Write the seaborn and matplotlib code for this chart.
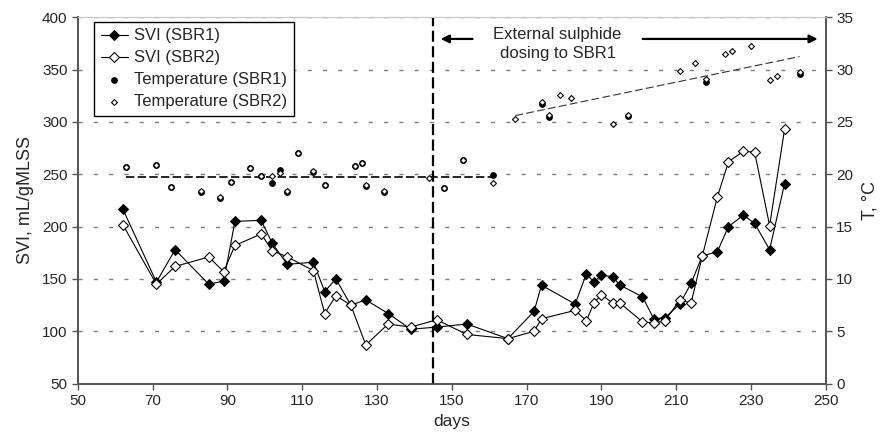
import numpy as np
import pandas as pd
import matplotlib
matplotlib.use('Agg')
import matplotlib.pyplot as plt
import seaborn as sns

# SVI data (both reactors sampled on the same days)
svi_days = [62, 71, 76, 85, 89, 92, 99, 102, 106, 113, 116, 119, 123, 127, 133, 139, 146, 154,
            165, 172, 174, 183, 186, 188, 190, 193, 195, 201, 204, 207, 211, 214, 217, 221,
            224, 228, 231, 235, 239]
svi_sbr1 = [217, 147, 178, 145, 148, 205, 206, 184, 164, 166, 138, 150, 125, 130, 117, 102, 104, 107,
            93, 119, 144, 126, 155, 147, 154, 152, 144, 133, 112, 113, 126, 146, 172, 176,
            200, 211, 203, 178, 241]
svi_sbr2 = [202, 145, 162, 171, 157, 182, 193, 177, 171, 158, 117, 134, 125, 87, 107, 104, 111, 97,
            93, 100, 112, 120, 110, 127, 135, 127, 127, 109, 108, 110, 130, 127, 172, 228,
            262, 272, 271, 201, 293]

# temperature data
t1_days = [63, 71, 75, 83, 88, 91, 96, 99, 102, 104, 106, 109, 113, 116, 124, 126, 127, 132,
           148, 153, 161, 174, 176, 197, 218, 243]
t1_vals = [20.7, 20.9, 18.8, 18.3, 17.7, 19.3, 20.6, 19.8, 19.2, 20.4, 18.3, 22.0, 20.2, 19.0,
           20.8, 21.1, 18.9, 18.3, 18.7, 21.4, 19.9, 26.7, 25.5, 25.6, 28.8, 29.6]
t2_days = [63, 71, 75, 83, 88, 91, 96, 99, 102, 104, 106, 109, 113, 116, 124, 126, 127, 132,
           144, 148, 153, 161, 167, 174, 176, 179, 182, 193, 197, 211, 215, 218, 223, 225,
           230, 235, 237, 243]
t2_vals = [20.7, 20.9, 18.8, 18.4, 17.8, 19.3, 20.6, 19.8, 19.8, 20.1, 18.4, 22.0, 20.3, 19.0,
           20.8, 21.1, 19.0, 18.4, 19.6, 18.7, 21.4, 19.2, 25.3, 26.9, 25.7, 27.6, 27.3, 24.8,
           25.7, 29.9, 30.6, 29.1, 31.5, 31.8, 32.3, 29.0, 29.4, 29.8]

dosing_start = 145

sns.set_style('ticks')
plt.rcParams['font.family'] = ['Liberation Sans', 'DejaVu Sans']

fig, ax = plt.subplots(figsize=(8.85, 4.43), dpi=100)
fig.subplots_adjust(left=0.088, right=0.933, top=0.961, bottom=0.134)
ax2 = ax.twinx()

# SVI lines
sns.lineplot(x=svi_days, y=svi_sbr1, ax=ax, color='black', lw=0.8, marker='D', markersize=4.8,
             markerfacecolor='black', markeredgecolor='black', label='SVI (SBR1)', legend=False)
sns.lineplot(x=svi_days, y=svi_sbr2, ax=ax, color='black', lw=0.8, marker='D', markersize=4.8,
             markerfacecolor='white', markeredgecolor='black', markeredgewidth=0.8,
             label='SVI (SBR2)', legend=False)

# temperature
sns.scatterplot(x=t1_days, y=t1_vals, ax=ax2, color='black', marker='o', s=24, linewidth=0,
                label='Temperature (SBR1)', legend=False, zorder=3)
sns.scatterplot(x=t2_days, y=t2_vals, ax=ax2, color='white', marker='D', s=9, edgecolor='black',
                linewidth=0.8, label='Temperature (SBR2)', legend=False, zorder=4)

# temperature trends
t2d = np.array(t2_days)
t2v = np.array(t2_vals)
pre = t2d <= 161
post = t2d >= 167
mean_pre = t2v[pre].mean()
ax2.plot([t2d[pre].min(), t2d[pre].max()], [mean_pre, mean_pre], color='black', lw=1.2,
         linestyle=(0, (5, 2)), zorder=2)
k, b = np.polyfit(t2d[post], t2v[post], 1)
xs = np.array([t2d[post].min(), t2d[post].max()])
ax2.plot(xs, k * xs + b, color='#333333', lw=0.8, linestyle=(0, (7, 3)), zorder=2)

# dosing marker
ax.axvline(dosing_start, color='black', lw=1.6, linestyle=(0, (5, 2)), zorder=5)
ax.annotate('', xy=(146.3, 379.3), xytext=(156.3, 379.3),
            arrowprops=dict(arrowstyle='-|>', color='black', lw=1.6, mutation_scale=12))
ax.annotate('', xy=(248.6, 379.3), xytext=(200.3, 379.3),
            arrowprops=dict(arrowstyle='-|>', color='black', lw=1.6, mutation_scale=12))
ax.text(178.3, 374.5, 'External sulphide\ndosing to SBR1', ha='center', va='center',
        fontsize=12, linespacing=1.3)

# axes
ax.set_xlim(50, 250)
ax.set_ylim(50, 400)
ax2.set_ylim(0, 35)
ax.set_xticks(range(50, 251, 20))
ax.set_yticks(range(50, 401, 50))
ax2.set_yticks(range(0, 36, 5))
ax.set_xlabel('days', fontsize=12.5, labelpad=4)
ax.set_ylabel('SVI, mL/gMLSS', fontsize=13, labelpad=6)
ax2.set_ylabel('T, °C', fontsize=13, labelpad=6)
ax.grid(axis='y', color='#7f7f7f', lw=1.0, linestyle=(0, (3, 8)))
ax.tick_params(labelsize=11, length=4, width=1, color='#555555', direction='out')
ax2.tick_params(labelsize=11, length=4, width=1, color='#555555', direction='out')

for a in (ax, ax2):
    for side in ('left', 'right', 'bottom'):
        a.spines[side].set_color('#555555')
        a.spines[side].set_linewidth(1.2)
    a.spines['top'].set_color('#c8c8c8')
    a.spines['top'].set_linewidth(0.8)

h1, l1 = ax.get_legend_handles_labels()
h2, l2 = ax2.get_legend_handles_labels()
leg = ax2.legend(h1 + h2, l1 + l2, loc='upper left', bbox_to_anchor=(0.022, 0.988),
                 borderaxespad=0, fontsize=12, frameon=True, fancybox=False, framealpha=1,
                 edgecolor='black', handlelength=1.6, handletextpad=0.4, labelspacing=0.42,
                 borderpad=0.4)
leg.get_frame().set_linewidth(1.0)

fig.savefig('out.png', dpi=100)
